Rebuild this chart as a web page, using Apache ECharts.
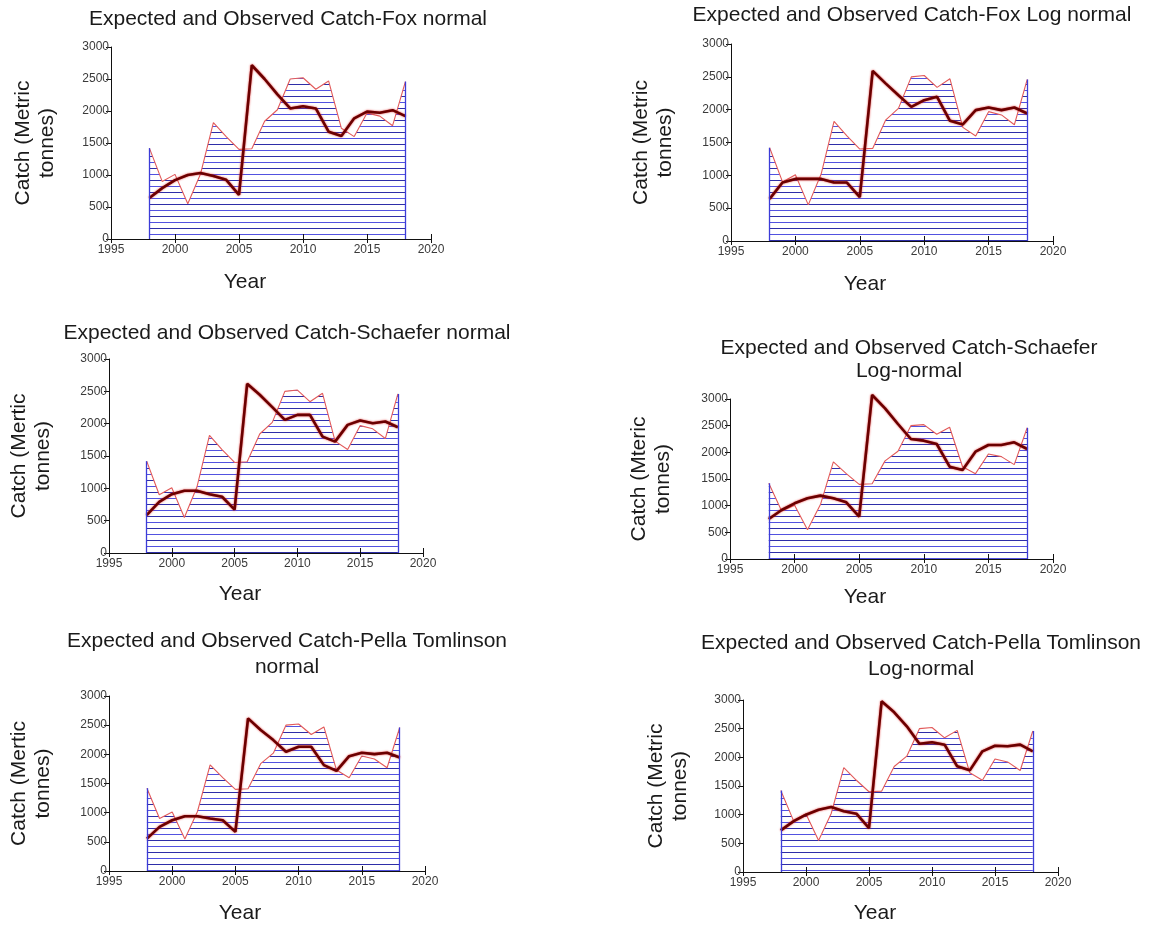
<!DOCTYPE html>
<html>
<head>
<meta charset="utf-8">
<script src="https://cdn.jsdelivr.net/npm/echarts@6/dist/echarts.min.js"></script>
<style>
html,body{margin:0;padding:0;background:#fff;}
#chart{width:1153px;height:926px;}
</style>
</head>
<body>
<div id="chart"></div>
<script>
// ---------------- DATA ----------------
const years = [1998,1999,2000,2001,2002,2003,2004,2005,2006,2007,2008,2009,2010,2011,2012,2013,2014,2015,2016,2017,2018];
const observed = [1420,900,1010,550,1020,1820,1600,1400,1410,1840,2020,2500,2520,2340,2470,1730,1600,1970,1920,1770,2460];
const expFoxNormal   = [640,795,920,1000,1030,985,925,690,2715,2500,2260,2040,2075,2040,1676,1610,1885,1990,1972,2013,1920];
const expFoxLog      = [642,890,946,946,946,890,890,668,2590,2400,2220,2043,2145,2195,1830,1775,1993,2033,1993,2033,1942];
const expSchNormal   = [585,790,910,962,962,910,870,672,2617,2447,2255,2059,2136,2136,1800,1722,1981,2049,2007,2033,1945];
const expSchLog      = [750,919,1044,1138,1188,1138,1063,794,3075,2825,2531,2250,2219,2156,1731,1669,2013,2138,2138,2188,2063];
const expPellaNormal = [555,756,870,939,939,899,870,670,2616,2416,2244,2044,2130,2130,1815,1717,1969,2026,2004,2026,1946];
const expPellaLog    = [727,884,1000,1087,1134,1058,1017,767,2977,2785,2541,2238,2262,2221,1843,1773,2105,2203,2192,2221,2105];

const titles = [
  ["Expected and Observed Catch-Fox normal"],
  ["Expected and Observed Catch-Fox Log normal"],
  ["Expected and Observed Catch-Schaefer normal"],
  ["Expected and Observed Catch-Schaefer", "Log-normal"],
  ["Expected and Observed Catch-Pella Tomlinson", "normal"],
  ["Expected and Observed Catch-Pella Tomlinson", "Log-normal"]
];
const yNames = [
  "Catch (Metric\ntonnes)",
  "Catch (Metric\ntonnes)",
  "Catch (Mertic\ntonnes)",
  "Catch (Mteric\ntonnes)",
  "Catch (Mertic\ntonnes)",
  "Catch (Metric\ntonnes)"
];
const xName = "Year";
const expectedSets = [expFoxNormal, expFoxLog, expSchNormal, expSchLog, expPellaNormal, expPellaLog];

// ---------------- LAYOUT ----------------
const panels = [
  {grid:{left:111, top:47,  width:320, height:192}, title:[[288,19]],            year:[245,282], gap:52},
  {grid:{left:731, top:44,  width:322, height:197}, title:[[912,15]],            year:[865,284], gap:54},
  {grid:{left:109, top:359, width:314, height:194}, title:[[287,333]],           year:[240,594], gap:54},
  {grid:{left:730, top:399, width:323, height:160}, title:[[909,348],[909,371]], year:[865,597], gap:55},
  {grid:{left:109, top:696, width:316, height:175}, title:[[287,641],[287,667]], year:[240,913], gap:54},
  {grid:{left:743, top:700, width:315, height:172}, title:[[921,643],[921,669]], year:[875,913], gap:51}
];

const FONT = "Liberation Sans, Arial, sans-serif";

// hatch pattern
const pc = document.createElement('canvas');
pc.width = 8; pc.height = 12;
const pctx = pc.getContext('2d');
pctx.fillStyle = '#ffffff';
pctx.fillRect(0,0,8,12);
pctx.fillStyle = '#2e2ea8';
pctx.fillRect(0,0,8,1);
pctx.fillStyle = '#5252e0';
pctx.fillRect(0,6,8,1);

const plain = v => String(v);

const grid = [], xAxis = [], yAxis = [], series = [], graphic = [];
panels.forEach((p, i) => {
  grid.push(Object.assign({containLabel:false}, p.grid));
  xAxis.push({
    type:'value', gridIndex:i, min:1995, max:2020, interval:5, z:10,
    axisLine:{show:true, onZero:false, lineStyle:{color:'#111', width:1}},
    axisTick:{show:true, length:4, lineStyle:{color:'#111'}},
    axisLabel:{fontFamily:FONT, fontSize:12, color:'#3a3a3a', margin:5, formatter:plain},
    splitLine:{show:false}
  });
  xAxis.push({
    type:'value', gridIndex:i, min:1995, max:2020, interval:5, position:'bottom', z:10,
    axisLine:{show:false},
    axisTick:{show:true, inside:true, length:5, lineStyle:{color:'#111'}},
    axisLabel:{show:false},
    splitLine:{show:false}
  });
  yAxis.push({
    type:'value', gridIndex:i, min:0, max:3000, interval:500, z:10,
    axisLine:{show:true, lineStyle:{color:'#111', width:1}},
    axisTick:{show:true, length:5, lineStyle:{color:'#111'}},
    axisLabel:{fontFamily:FONT, fontSize:12, color:'#3a3a3a', margin:2, formatter:plain},
    splitLine:{show:false},
    name: yNames[i], nameLocation:'middle', nameRotate:90, nameGap:p.gap,
    nameTextStyle:{fontFamily:FONT, fontSize:21, color:'#1a1a1a', lineHeight:24}
  });
  const obsData = years.map((y,k)=>[y, observed[k]]);
  const expData = years.map((y,k)=>[y, expectedSets[i][k]]);
  const last = years.length - 1;
  series.push({
    type:'line', xAxisIndex:2*i, yAxisIndex:i, data:obsData,
    symbol:'none', clip:false, z:2,
    lineStyle:{color:'#e25a5a', width:1.1},
    areaStyle:{color:{image:pc, repeat:'repeat'}, opacity:1},
    markLine:{
      silent:true, symbol:['none','none'], label:{show:false},
      lineStyle:{color:'#3c3cd8', width:1.3, type:'solid'},
      emphasis:{disabled:true},
      data:[
        [{coord:[years[0],0]},{coord:[years[0],observed[0]]}],
        [{coord:[years[last],0]},{coord:[years[last],observed[last]]}]
      ]
    }
  });
  series.push({
    type:'line', xAxisIndex:2*i, yAxisIndex:i, data:expData,
    symbol:'none', clip:false, z:3,
    lineStyle:{color:'#6a0000', width:2.6, shadowColor:'rgba(225,30,30,0.9)', shadowBlur:2}
  });
  titles[i].forEach((t, j) => {
    graphic.push({
      type:'text', x:p.title[j][0], y:p.title[j][1],
      style:{text:t, font:'21px ' + FONT, fill:'#1a1a1a', textAlign:'center', textVerticalAlign:'middle'}
    });
  });
  graphic.push({
    type:'text', x:p.year[0], y:p.year[1],
    style:{text:xName, font:'21px ' + FONT, fill:'#1a1a1a', textAlign:'center', textVerticalAlign:'middle'}
  });
});

const chart = echarts.init(document.getElementById('chart'), null, {renderer:'canvas'});
chart.setOption({
  animation:false,
  backgroundColor:'#ffffff',
  grid, xAxis, yAxis, series, graphic
});
</script>
</body>
</html>
